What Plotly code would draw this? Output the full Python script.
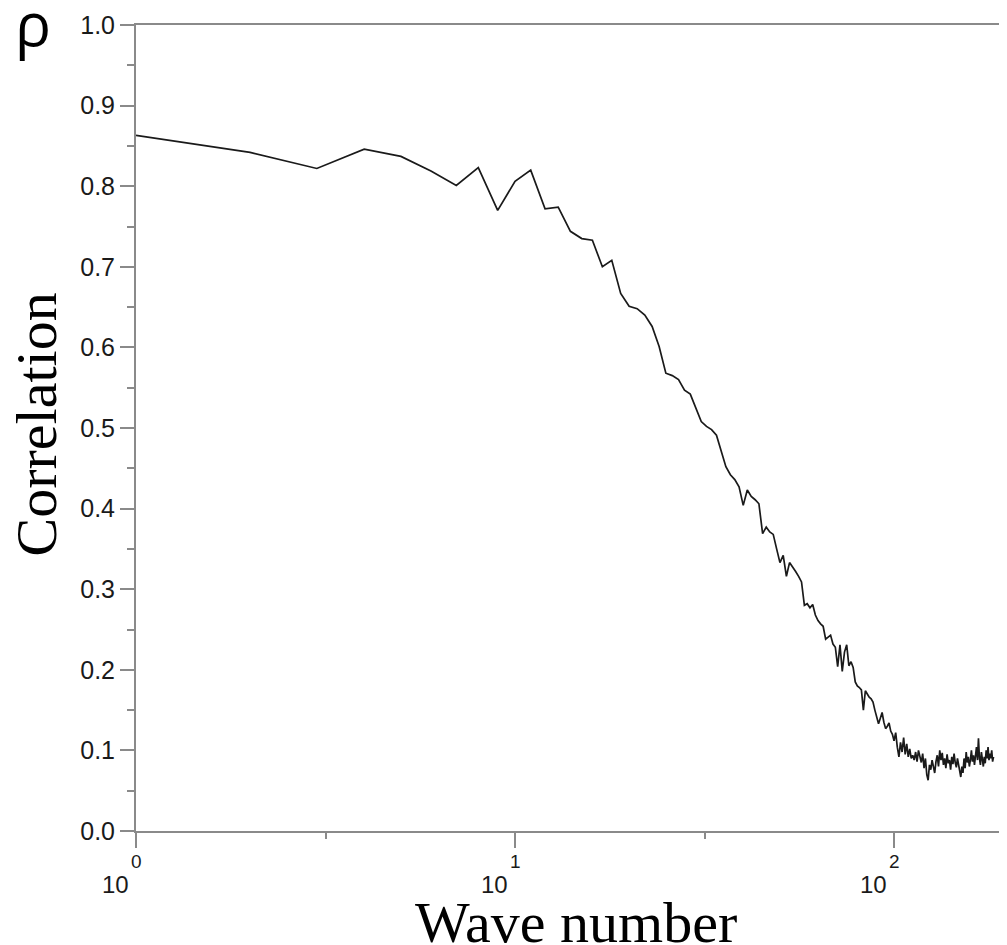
import math
import plotly.graph_objects as go

# Wave numbers 1..183 and correlation values
wave_number = list(range(1, 184))
correlation = [
    0.863, 0.842, 0.822, 0.846, 0.837, 0.819, 0.801, 0.823, 0.770, 0.806,
    0.820, 0.772, 0.774, 0.744, 0.735, 0.733, 0.700, 0.708, 0.667, 0.651,
    0.648, 0.640, 0.626, 0.601, 0.568, 0.565, 0.560, 0.547, 0.542, 0.525,
    0.508, 0.502, 0.498, 0.491, 0.470, 0.452, 0.442, 0.436, 0.427, 0.404,
    0.423, 0.415, 0.411, 0.406, 0.369, 0.377, 0.371, 0.368, 0.350, 0.333,
    0.342, 0.316, 0.333, 0.328, 0.322, 0.316, 0.309, 0.280, 0.282, 0.277,
    0.281, 0.268, 0.261, 0.257, 0.254, 0.238, 0.240, 0.243, 0.232, 0.228,
    0.204, 0.231, 0.198, 0.222, 0.231, 0.205, 0.210, 0.203, 0.185, 0.180,
    0.178, 0.175, 0.150, 0.174, 0.170, 0.166, 0.164, 0.160, 0.150, 0.140,
    0.133, 0.140, 0.147, 0.135, 0.127, 0.130, 0.134, 0.124, 0.120, 0.112,
    0.122, 0.104, 0.092, 0.110, 0.098, 0.116, 0.095, 0.108, 0.092, 0.102,
    0.090, 0.094, 0.088, 0.098, 0.086, 0.100, 0.092, 0.085, 0.096, 0.078,
    0.090, 0.070, 0.063, 0.082, 0.076, 0.088, 0.080, 0.072, 0.086, 0.094,
    0.080, 0.100, 0.088, 0.097, 0.082, 0.090, 0.078, 0.095, 0.084, 0.088,
    0.076, 0.092, 0.083, 0.096, 0.085, 0.079, 0.090, 0.082, 0.074, 0.067,
    0.080, 0.072, 0.090, 0.078, 0.098, 0.085, 0.092, 0.080, 0.088, 0.100,
    0.086, 0.094, 0.082, 0.096, 0.104, 0.088, 0.115, 0.090, 0.082, 0.098,
    0.086, 0.080, 0.092, 0.084, 0.100, 0.090, 0.104, 0.088, 0.096, 0.090,
    0.100, 0.086, 0.092,
]

x_major_ticks = [1, 10, 100]
x_exponents = ["0", "1", "2"]
x_minor_ticks = [10 ** 0.5, 10 ** 1.5]
y_ticks = [round(0.1 * i, 1) for i in range(11)]
y_tick_labels = [f"{v:.1f}" for v in y_ticks]

x_title = "Wave number"
y_title = "Correlation"
corner_label = "ρ"

AXIS_GRAY = "#8a8a8a"
TEXT = "#1a1a1a"

fig = go.Figure()
fig.add_trace(go.Scatter(
    x=wave_number, y=correlation, mode="lines",
    line=dict(color="#1a1a1a", width=1.7),
    showlegend=False, hoverinfo="skip",
))

# page body adds an 8px margin, so the figure is 8px smaller and margins shifted
fig.update_layout(
    width=999, height=937,
    margin=dict(l=128, r=0, t=17, b=114),
    paper_bgcolor="white", plot_bgcolor="white",
    showlegend=False,
)

fig.update_xaxes(
    type="log", range=[0, 2.298],
    showgrid=False, zeroline=False,
    showline=True, linecolor=AXIS_GRAY, linewidth=2, mirror=True,
    tickmode="array", tickvals=x_major_ticks,
    ticks="outside", ticklen=15, tickwidth=2, tickcolor=AXIS_GRAY,
    showticklabels=False,
    minor=dict(tickmode="array", tickvals=x_minor_ticks, ticks="outside",
               ticklen=6, tickwidth=2, tickcolor=AXIS_GRAY, showgrid=False),
)

fig.update_yaxes(
    range=[0, 1],
    showgrid=False, zeroline=False,
    showline=True, linecolor=AXIS_GRAY, linewidth=2, mirror=False,
    tickmode="array", tickvals=y_ticks, ticktext=y_tick_labels,
    ticks="outside", ticklen=14, tickwidth=2, tickcolor=AXIS_GRAY,
    tickfont=dict(family="Liberation Sans", size=25, color=TEXT),
    minor=dict(dtick=0.05, ticks="outside", ticklen=7, tickwidth=2,
               tickcolor=AXIS_GRAY, showgrid=False),
)

annotations = []
for v, e in zip(x_major_ticks, x_exponents):
    lv = math.log10(v)
    annotations.append(dict(
        x=lv, xref="x", y=0, yref="paper", yshift=-53, text="10",
        showarrow=False, xanchor="right", yanchor="middle", xshift=-5,
        font=dict(family="Liberation Sans", size=24, color=TEXT),
    ))
    annotations.append(dict(
        x=lv, xref="x", y=0, yref="paper", yshift=-30, text=e,
        showarrow=False, xanchor="center", yanchor="middle",
        font=dict(family="Liberation Sans", size=19, color=TEXT),
    ))

annotations.append(dict(
    x=0.505, xref="paper", y=-0.114, yref="paper", text=x_title,
    showarrow=False, xanchor="center", yanchor="middle",
    font=dict(family="Liberation Serif", size=58, color="black"),
))
annotations.append(dict(
    x=-0.114, xref="paper", y=0.504, yref="paper", text=y_title,
    showarrow=False, xanchor="center", yanchor="middle", textangle=-90,
    font=dict(family="Liberation Serif", size=58, color="black"),
))
annotations.append(dict(
    x=-0.118, xref="paper", y=1.003, yref="paper", text=corner_label,
    showarrow=False, xanchor="center", yanchor="middle",
    font=dict(family="Open Sans", size=60, color="black"),
))
fig.update_layout(annotations=annotations)

fig.write_html("out.html")
